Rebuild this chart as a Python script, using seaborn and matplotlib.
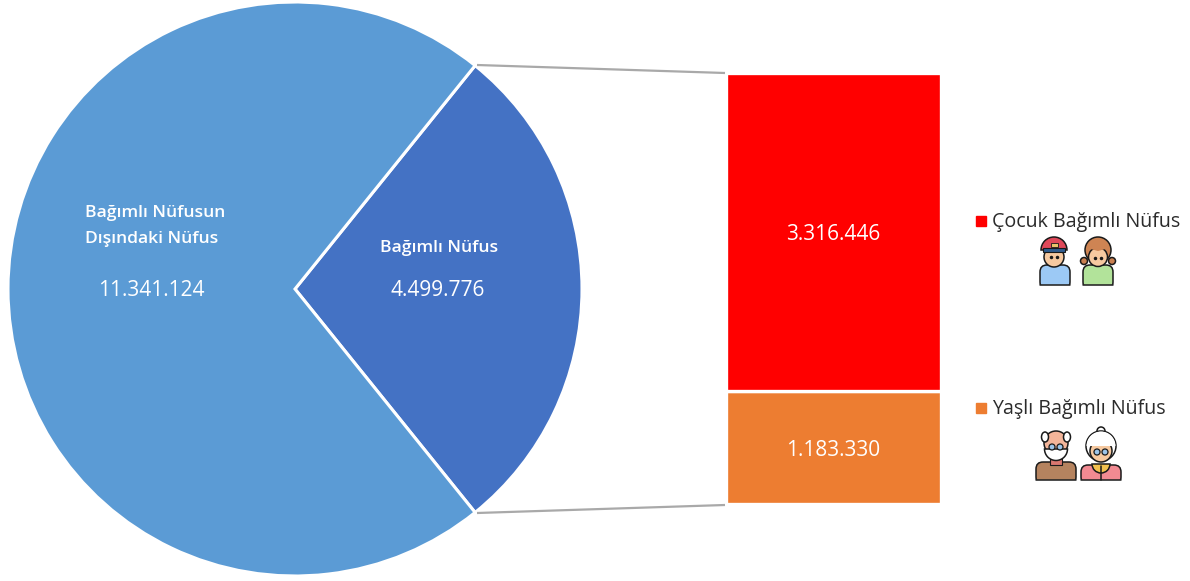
import matplotlib
matplotlib.use("Agg")
import matplotlib.pyplot as plt
from matplotlib.patches import Circle, Ellipse, FancyBboxPatch, Rectangle, Wedge
import seaborn as sns

pie_labels = ["Bağımlı Nüfus", "Bağımlı Nüfusun\nDışındaki Nüfus"]
pie_values = [4499776, 11341124]
pie_colors = ["#4472C4", "#5B9BD5"]
bar_labels = ["Yaşlı Bağımlı Nüfus", "Çocuk Bağımlı Nüfus"]
bar_values = [1183330, 3316446]
bar_colors = ["#ED7D31", "#FF0000"]

def fmt(v):
    return f"{v:,}".replace(",", ".")

sns.set_theme(style="white")
plt.rcParams["font.family"] = ["Open Sans", "DejaVu Sans"]
W, H = 1190, 581
fig = plt.figure(figsize=(W / 100, H / 100), dpi=100, facecolor="white")

def axes_px(x0, y0, x1, y1, **kw):
    return fig.add_axes([x0 / W, 1 - y1 / H, (x1 - x0) / W, (y1 - y0) / H], **kw)

# Pie
ax_pie = axes_px(8, 2, 582, 576)
dark_angle = 360 * pie_values[0] / sum(pie_values)
wedges, _ = ax_pie.pie(pie_values, colors=pie_colors, startangle=-dark_angle / 2,
                       radius=1, wedgeprops=dict(edgecolor="white", linewidth=2.2))
ax_pie.set_xlim(-1, 1)
ax_pie.set_ylim(-1, 1)
for w in wedges:
    w.set_clip_on(False)

# Stacked bar
ax_bar = axes_px(726, 73, 941, 504)
sns.barplot(x=[""], y=[bar_values[0]], color=bar_colors[0], width=1, saturation=1,
            ax=ax_bar, edgecolor="white", linewidth=2.4)
sns.barplot(x=[""], y=[bar_values[1]], bottom=[bar_values[0]], color=bar_colors[1], width=1,
            saturation=1, ax=ax_bar, edgecolor="white", linewidth=2.4)
ax_bar.set_xlim(-0.5, 0.5)
ax_bar.set_ylim(0, sum(bar_values))
ax_bar.axis("off")

# Overlay in pixel coordinates for annotation
ov = axes_px(0, 0, W, H)
ov.set_xlim(0, W)
ov.set_ylim(H, 0)
ov.axis("off")
ov.patch.set_alpha(0)

for (x0, y0, x1, y1) in [(477, 65, 725, 73), (477, 513, 725, 505)]:
    ov.plot([x0, x1], [y0, y1], color="#A9A9A9", lw=1.6, solid_capstyle="butt")

BODY = dict(color="white", ha="center", va="center")
ov.text(155.5, 213, "Bağımlı Nüfusun", fontsize=12.6, fontweight="semibold", **BODY)
ov.text(152, 239, "Dışındaki Nüfus", fontsize=12.6, fontweight="semibold", **BODY)
ov.text(151, 291, fmt(pie_values[1]), fontsize=15, **BODY)
ov.text(439, 248, pie_labels[0], fontsize=12.6, fontweight="semibold", **BODY)
ov.text(438, 291, fmt(pie_values[0]), fontsize=15, **BODY)
ov.text(833, 234, fmt(bar_values[1]), fontsize=15, **BODY)
ov.text(833, 450, fmt(bar_values[0]), fontsize=15, **BODY)

ov.add_patch(Rectangle((976, 216), 10, 10, color=bar_colors[1]))
ov.text(992, 222, bar_labels[1], fontsize=14.1, color="#2B2B2B", va="center", ha="left")
ov.add_patch(Rectangle((976, 403), 10, 10, color=bar_colors[0]))
ov.text(992, 409, bar_labels[0], fontsize=14.1, color="#2B2B2B", va="center", ha="left")

INK = "#1A1A1A"
LW = 1.1

def body(cx, top, bot, half, color):
    ov.add_patch(FancyBboxPatch((cx - half + 4, top + 4), 2 * half - 8, bot - top - 4,
                                boxstyle="round,pad=4,rounding_size=7", fc=color, ec=INK, lw=LW, zorder=3))
    ov.add_patch(Rectangle((cx - half - 1, bot), 2 * half + 2, 4, color="white", zorder=3.5))
    ov.plot([cx - half, cx + half], [bot, bot], color=INK, lw=LW, zorder=4)

def face(cx, cy, r, skin="#F6C9A0"):
    ov.add_patch(Circle((cx, cy), r, fc=skin, ec=INK, lw=LW, zorder=5))

def eyes(cx, cy, dx=3):
    ov.plot([cx - dx, cx + dx], [cy, cy], ls="none", marker="o", ms=1.5, color=INK, zorder=7)

def glasses(cx, cy, dx=4):
    for s in (-1, 1):
        ov.add_patch(Circle((cx + s * dx, cy), 3, fc="#9CC4E8", ec=INK, lw=0.9, zorder=7))

# Boy
body(1055, 265, 285, 15, "#9CC9F5")
face(1054, 257, 10)
ov.add_patch(Wedge((1054, 250), 13, 180, 360, fc="#E0495A", ec=INK, lw=LW, zorder=6))
ov.add_patch(Rectangle((1043, 248), 22, 3.5, fc="#2F5C8F", ec=INK, lw=0.8, zorder=6))
ov.add_patch(Rectangle((1051, 243), 7, 4, fc="#E9C46A", ec=INK, lw=0.6, zorder=7))
eyes(1054, 257)

# Girl
body(1098, 265, 285, 15, "#B2E39A")
ov.add_patch(Circle((1084, 261), 3.5, fc="#C97F4F", ec=INK, lw=LW, zorder=4))
ov.add_patch(Circle((1112, 261), 3.5, fc="#C97F4F", ec=INK, lw=LW, zorder=4))
ov.add_patch(Circle((1098, 250), 13, fc="#CE8453", ec=INK, lw=LW, zorder=4))
face(1098, 257, 9.5)
ov.add_patch(Wedge((1098, 251), 11.5, 195, 345, fc="#CE8453", ec="none", zorder=6))
eyes(1098, 258)

# Old man
body(1056, 462, 480, 20, "#B5835F")
ov.add_patch(Rectangle((1050, 458), 12, 7, fc="#D9776F", ec=INK, lw=0.8, zorder=4))
face(1056, 443, 12, "#F3B59A")
ov.add_patch(Ellipse((1045, 437), 7, 10, fc="white", ec=INK, lw=LW, zorder=6))
ov.add_patch(Ellipse((1067, 437), 7, 10, fc="white", ec=INK, lw=LW, zorder=6))
ov.add_patch(Wedge((1056, 449), 11.5, 0, 180, fc="white", ec=INK, lw=LW, zorder=6))
glasses(1056, 447)

# Old woman
body(1101, 465, 480, 20, "#F28A92")
ov.add_patch(Wedge((1101, 464), 9, 0, 180, fc="#F2C14E", ec=INK, lw=LW, zorder=4))
ov.plot([1101, 1101], [466, 480], color=INK, lw=LW, zorder=5)
ov.add_patch(Circle((1101, 431), 4, fc="white", ec=INK, lw=LW, zorder=4))
ov.add_patch(Circle((1101, 446), 15, fc="white", ec=INK, lw=LW, zorder=4))
face(1101, 451, 11)
ov.add_patch(Wedge((1101, 446), 14.5, 180, 360, fc="white", ec="none", zorder=5.5))
glasses(1101, 452)

fig.savefig("out.png", dpi=100, facecolor="white")
